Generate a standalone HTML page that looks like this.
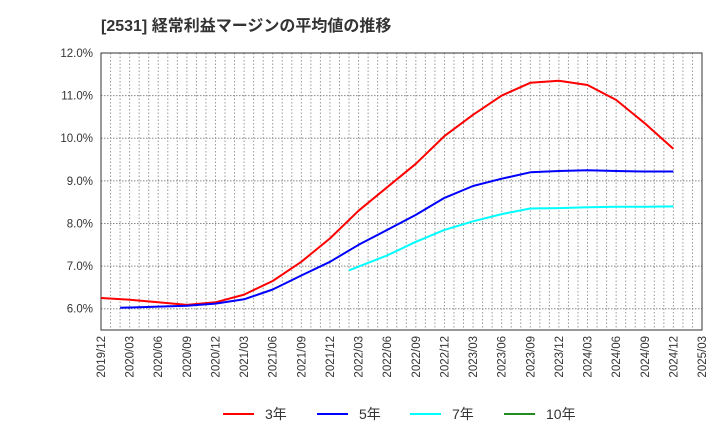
<!DOCTYPE html>
<html><head><meta charset="utf-8"><style>
body{margin:0;background:#fff;font-family:"Liberation Sans","Noto Sans CJK JP",sans-serif}
svg text{font-family:"Liberation Sans","Noto Sans CJK JP",sans-serif}
</style></head><body>
<svg id="c" width="720" height="440" xmlns="http://www.w3.org/2000/svg">
<text x="101" y="31" font-size="16" font-weight="bold" fill="#333">[2531]  経常利益マージンの平均値の推移</text>
<g id="grid"></g><g id="axes"></g><g id="series"></g><g id="legend"></g>
</svg>
<script>
const xLabels=["2019/12","2020/03","2020/06","2020/09","2020/12","2021/03","2021/06","2021/09","2021/12","2022/03","2022/06","2022/09","2022/12","2023/03","2023/06","2023/09","2023/12","2024/03","2024/06","2024/09","2024/12","2025/03"];
const yTicks=[6,7,8,9,10,11,12];
// months after 2019/12
const m3=[0,3,6,9,12,15,18,21,24,27,30,33,36,39,42,45,48,51,54,57,60];
const s3=[6.25,6.21,6.15,6.09,6.15,6.33,6.65,7.1,7.65,8.3,8.85,9.4,10.05,10.55,11.0,11.3,11.35,11.25,10.9,10.35,9.75];
const m5=[2,6,9,12,15,18,21,24,27,30,33,36,39,42,45,48,51,54,57,60];
const s5=[6.02,6.05,6.07,6.12,6.22,6.45,6.78,7.1,7.5,7.85,8.2,8.6,8.88,9.05,9.2,9.23,9.25,9.23,9.22,9.22];
const m7=[26,30,33,36,39,42,45,48,51,54,57,60];
const s7=[6.9,7.25,7.57,7.85,8.05,8.22,8.35,8.36,8.38,8.39,8.39,8.40];
const m10=[];
const s10=[];
const L=101,R=702,T=53,B=330,ymin=5.5,ymax=12;
const NS="http://www.w3.org/2000/svg";
const months=(xLabels.length-1)*3;
const XM=m=>L+(R-L)*m/months;
const X=i=>L+(R-L)*i/(xLabels.length-1);
const Y=v=>B-(B-T)*(v-ymin)/(ymax-ymin);
function mk(tag,attrs,parent){const e=document.createElementNS(NS,tag);for(const k in attrs)e.setAttribute(k,attrs[k]);document.getElementById(parent).appendChild(e);return e;}
for(let m=1;m<months;m++){const x=XM(m);
const g=mk('line',{x1:x,x2:x,y1:T,y2:B,stroke:'#999','stroke-dasharray':'1.5,2','stroke-width':1},'grid');

}
yTicks.forEach(v=>{const y=Y(v);
const g=mk('line',{x1:L,x2:R,y1:y,y2:y,stroke:'#888','stroke-dasharray':'1.5,1.5','stroke-width':1},'grid');


const t=mk('text',{x:L-8,y:y+4,'text-anchor':'end','font-size':11.5,fill:'#333'},'axes');t.textContent=v.toFixed(1)+'%';

});
const fr=mk('rect',{x:L,y:T,width:R-L,height:B-T,fill:'none',stroke:'#333','stroke-width':1},'axes');


xLabels.forEach((l,i)=>{const x=X(i);
const t=mk('text',{x:0,y:0,'text-anchor':'end','font-size':11.5,fill:'#333',transform:`translate(${x+4},${B+6}) rotate(-90)`},'axes');t.textContent=l;

});
function line(ms,arr,color,name){let d='';arr.forEach((v,i)=>{d+=(d?'L':'M')+XM(ms[i]).toFixed(1)+','+Y(v).toFixed(1);});
if(!d)return;const p=mk('path',{d:d,fill:'none',stroke:color,'stroke-width':2,'stroke-linejoin':'round'},'series');

}
line(m3,s3,'#ff0000','series-3yr');line(m5,s5,'#0000ff','series-5yr');line(m7,s7,'#00ffff','series-7yr');line(m10,s10,'#228b22','series-10yr');
[["3年",'#ff0000',223],["5年",'#0000ff',317],["7年",'#00ffff',410],["10年",'#228b22',504]].forEach(([t,c,x])=>{
const l=mk('line',{x1:x,x2:x+31,y1:414,y2:414,stroke:c,'stroke-width':2},'legend');


const tx=mk('text',{x:x+42,y:419,'font-size':14,fill:'#333'},'legend');tx.textContent=t;

});
</script>
</body></html>
